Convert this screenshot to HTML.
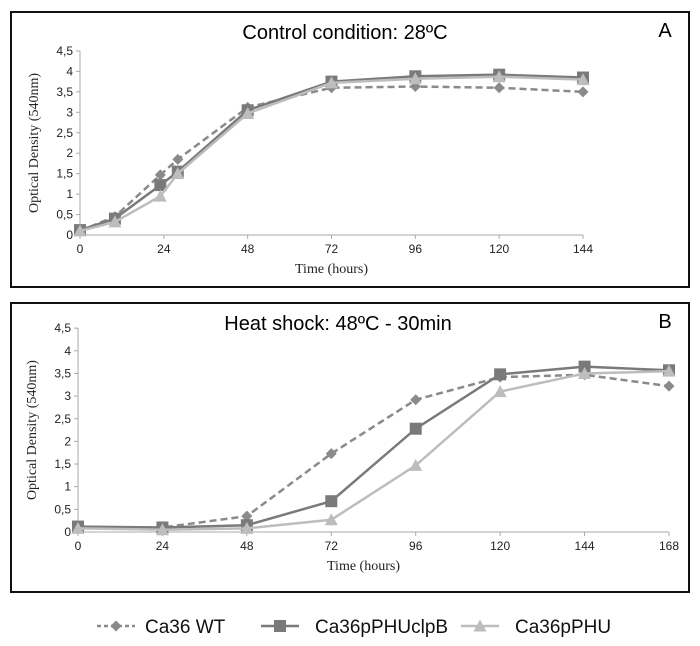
<!DOCTYPE html>
<html><head><meta charset="utf-8"><style>
html,body{margin:0;padding:0;background:#fff;width:700px;height:646px;overflow:hidden}
svg{display:block}
.tk{font-family:"Liberation Sans Narrow","Liberation Sans",sans-serif;font-size:12px;fill:#222}
.at{font-family:"Liberation Serif",serif;font-size:14px;fill:#222}
.tt{font-family:"Liberation Sans",sans-serif;font-size:20px;fill:#000}
.lg{font-family:"Liberation Sans",sans-serif;font-size:19px;fill:#111}
</style></head><body>
<svg id="c" width="700" height="646" xmlns="http://www.w3.org/2000/svg"></svg>
<script>
const seriesNames=["Ca36 WT","Ca36pPHUclpB","Ca36pPHU"];
const yTicks=[0,0.5,1,1.5,2,2.5,3,3.5,4,4.5];
const yTickLabels=["0","0,5","1","1,5","2","2,5","3","3,5","4","4,5"];
const xA=[0,10,23,28,48,72,96,120,144];
const xTicksA=[0,24,48,72,96,120,144];
const wtA=[0.1,0.45,1.47,1.85,3.12,3.6,3.63,3.6,3.5];
const clpA=[0.12,0.4,1.22,1.55,3.05,3.75,3.88,3.92,3.85];
const phuA=[0.1,0.32,0.95,1.5,2.97,3.72,3.82,3.87,3.8];
const xB=[0,24,48,72,96,120,144,168];
const xTicksB=[0,24,48,72,96,120,144,168];
const wtB=[0.1,0.1,0.35,1.73,2.92,3.42,3.47,3.22];
const clpB=[0.12,0.1,0.15,0.68,2.28,3.48,3.65,3.57];
const phuB=[0.08,0.05,0.08,0.27,1.47,3.1,3.5,3.55];

const NS="http://www.w3.org/2000/svg";
const svg=document.getElementById('c');
function mk(t,a,p){const e=document.createElementNS(NS,t);for(const k in a)e.setAttribute(k,a[k]);(p||svg).appendChild(e);return e;}
const styles=[{c:"#8a8a8a",d:"7,4",m:"d"},{c:"#7a7a7a",d:"",m:"s"},{c:"#bdbdbd",d:"",m:"t"}];
function marker(g,m,x,y,c){
  if(m==="d")return mk('polygon',{points:`${x},${y-5.5} ${x+5.5},${y} ${x},${y+5.5} ${x-5.5},${y}`,fill:c},g);
  if(m==="s")return mk('rect',{x:x-6,y:y-6,width:12,height:12,fill:c},g);
  return mk('polygon',{points:`${x},${y-6.5} ${x+6.5},${y+5.5} ${x-6.5},${y+5.5}`,fill:c},g);
}
function chart(o){
  const g=mk('g',{});
  
  
  const box=mk('rect',{x:o.bx,y:o.by,width:o.bw,height:o.bh,fill:"none",stroke:"#111","stroke-width":2},g);
  
  
  const X=v=>o.x0+(v-o.xmin)/(o.xmax-o.xmin)*(o.x1-o.x0);
  const Y=v=>o.y0-v*o.yu;
  mk('line',{x1:o.x0,y1:Y(0),x2:o.x1,y2:Y(0),stroke:"#aaa"},g);
  mk('line',{x1:o.x0,y1:Y(0),x2:o.x0,y2:Y(4.5),stroke:"#aaa"},g);
  yTicks.forEach((v,i)=>{
    mk('line',{x1:o.x0-4,y1:Y(v),x2:o.x0,y2:Y(v),stroke:"#aaa"},g);
    const t=mk('text',{x:o.x0-7,y:Y(v)+4,"text-anchor":"end",class:"tk"},g);t.textContent=yTickLabels[i];
    
    
  });
  o.xt.forEach(v=>{
    mk('line',{x1:X(v),y1:Y(0),x2:X(v),y2:Y(0)+4,stroke:"#aaa"},g);
    const t=mk('text',{x:X(v),y:Y(0)+18,"text-anchor":"middle",class:"tk"},g);t.textContent=v;
    
    
  });
  const xt=mk('text',{x:(o.x0+o.x1)/2+(o.xtoff||0),y:Y(0)+38,"text-anchor":"middle",class:"at"},g);xt.textContent="Time (hours)";
  
  
  const yt=mk('text',{x:0,y:0,"text-anchor":"middle",class:"at",transform:`translate(${o.x0-42},${Y(2.25)}) rotate(-90)`},g);yt.textContent="Optical Density (540nm)";
  
  
  const tt=mk('text',{x:o.tx,y:o.by+27,"text-anchor":"middle",class:"tt"},g);tt.textContent=o.title;
  
  
  const pl=mk('text',{x:o.bx+o.bw-24,y:o.by+25,"text-anchor":"middle",class:"tt"},g);pl.textContent=o.panel;
  
  
  o.series.forEach((s,i)=>{
    const st=styles[i];
    const sg=mk('g',{},g);
    
    
    const pts=s.map((v,j)=>X(o.xs[j])+","+Y(v)).join(" ");
    mk('polyline',{points:pts,fill:"none",stroke:st.c,"stroke-width":2.5,"stroke-dasharray":st.d},sg);
    s.forEach((v,j)=>{const m=marker(sg,st.m,X(o.xs[j]),Y(v),st.c);
      
      });
  });
}
chart({name:"chart-control",bx:11,by:12,bw:678,bh:275,x0:80,x1:583,xmin:0,xmax:144,y0:235,yu:40.9,xt:xTicksA,xs:xA,
  title:"Control condition: 28ºC",panel:"A",tx:345,series:[wtA,clpA,phuA]});
chart({name:"chart-heat-shock",bx:11,by:303,bw:678,bh:289,x0:78,x1:669,xmin:0,xmax:168,y0:532,yu:45.3,xt:xTicksB,xs:xB,
  title:"Heat shock: 48ºC - 30min",panel:"B",tx:338,xtoff:-10,series:[wtB,clpB,phuB]});
// legend
const lg=mk('g',{});


const lx=[97,261,461],tx=[145,315,515];
seriesNames.forEach((n,i)=>{
  const st=styles[i];
  const e=mk('g',{},lg);
  
  
  mk('line',{x1:lx[i],y1:626,x2:lx[i]+38,y2:626,stroke:st.c,"stroke-width":2.5,"stroke-dasharray":st.d?"4,3":""},e);
  marker(e,st.m,lx[i]+19,626,st.c);
  const t=mk('text',{x:tx[i],y:633,class:"lg"},e);t.textContent=n;
});
</script>
</body></html>
